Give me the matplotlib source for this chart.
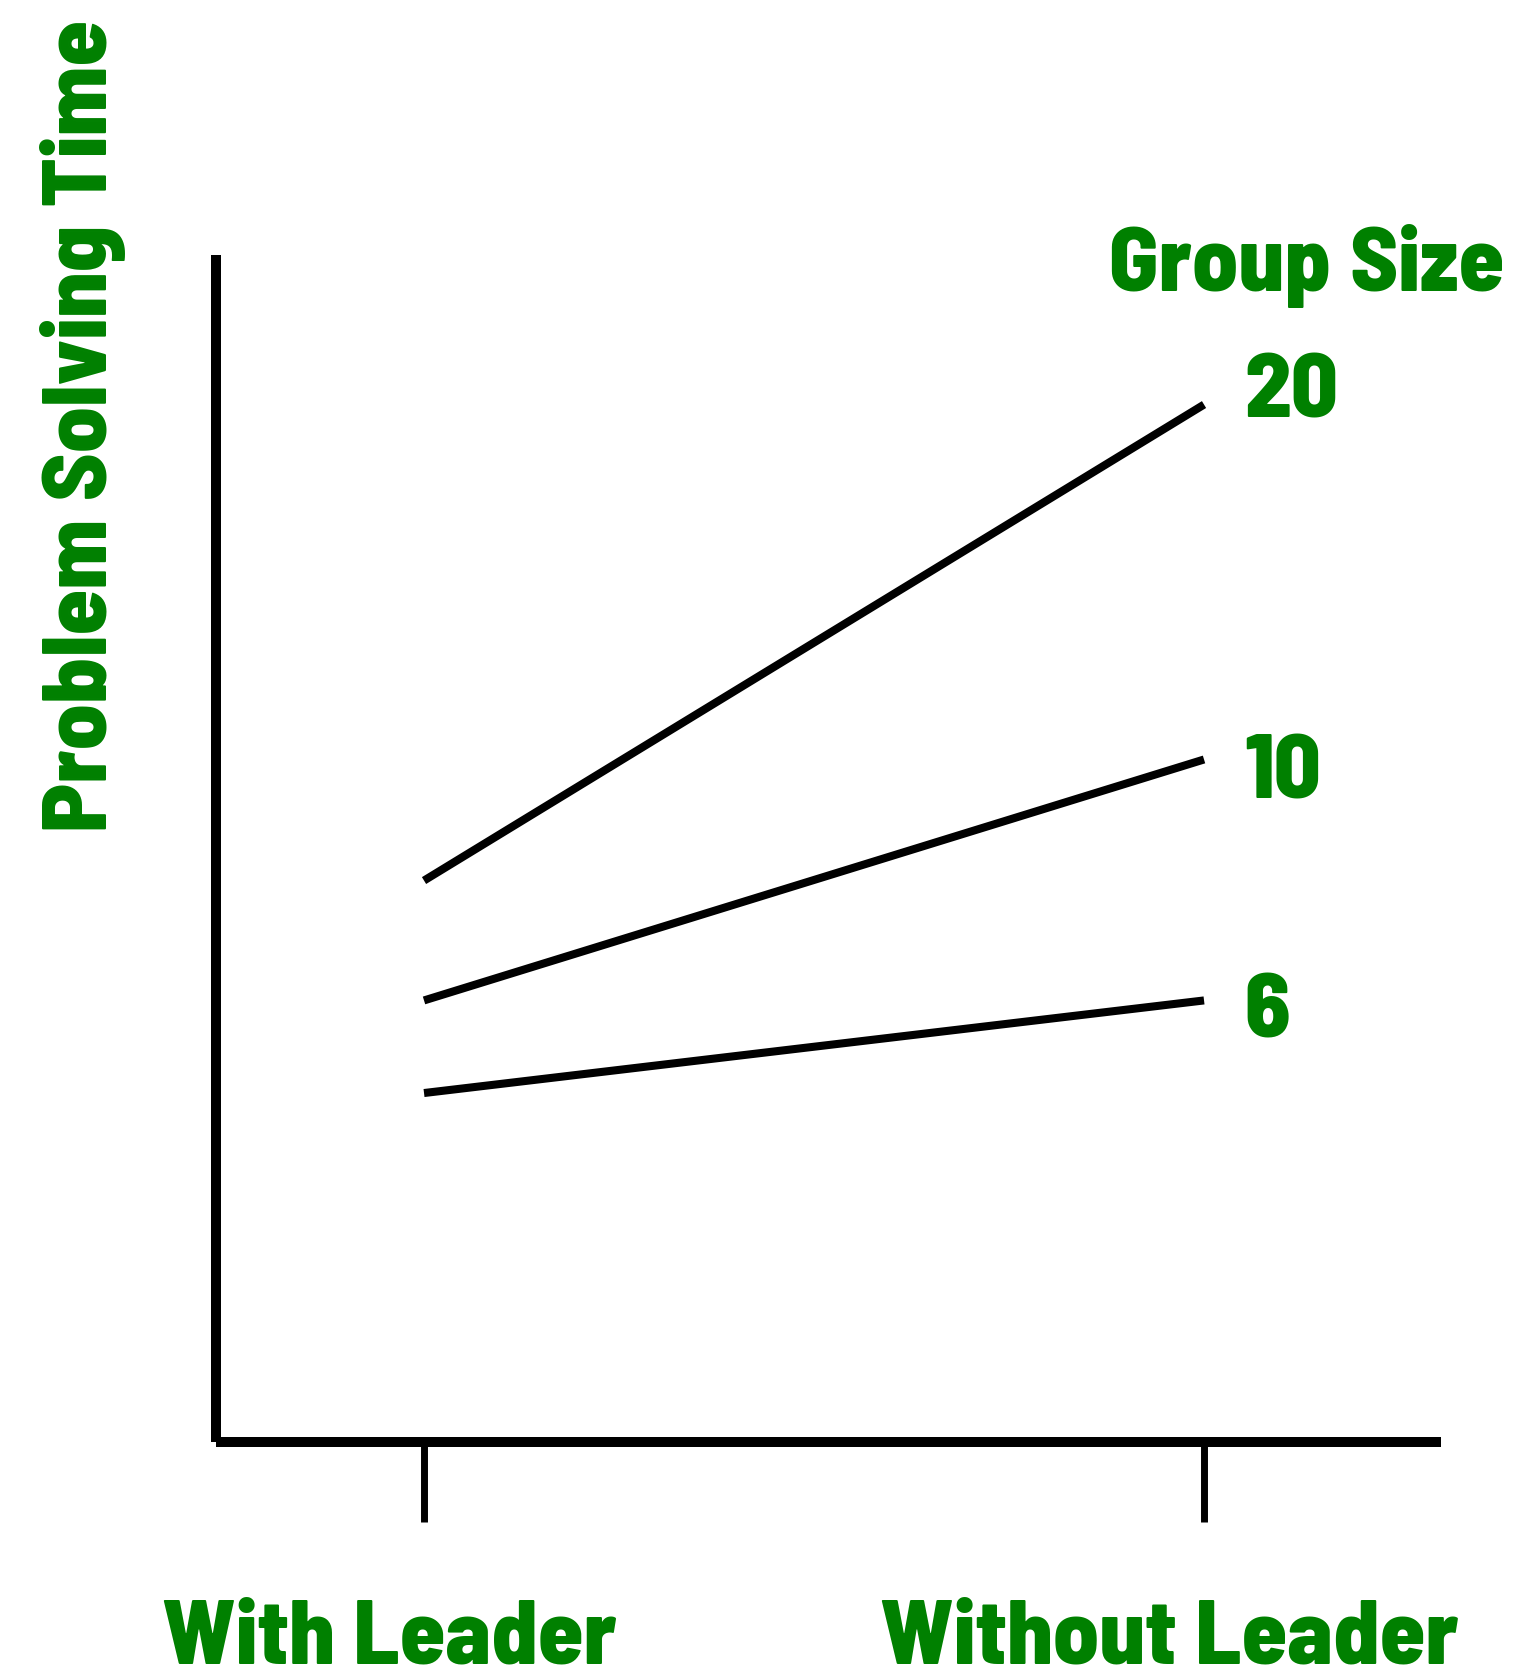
import matplotlib
matplotlib.use("Agg")
import matplotlib.pyplot as plt
from matplotlib.transforms import ScaledTranslation

# Leadership condition on the x axis, one line per group size
conditions = ["With Leader", "Without Leader"]
group_sizes = ["20", "10", "6"]
time_size20 = [47.3, 87.4]
time_size10 = [37.2, 57.5]
time_size6 = [29.4, 37.2]
series = [time_size20, time_size10, time_size6]

GREEN = "#008000"
FONT = ["Barlow Semi Condensed", "Barlow Condensed", "DejaVu Sans"]
WEIGHT = 800
FS = 66

DPI = 100
fig = plt.figure(figsize=(15.27, 16.74), dpi=DPI)
ax = fig.add_axes([0.14145, 0.13799, 0.80223, 0.70908])

x = [0, 1]
for vals in series:
    ax.plot(x, vals, color="black", lw=5.8, solid_capstyle="butt")

# group size labels to the right of each line end (offsets in pixels)
label_offsets = [(40, -12), (40, -38), (40, -36)]
for name, vals, off in zip(group_sizes, series, label_offsets):
    ax.annotate(name, xy=(1, vals[-1]), xytext=off, textcoords="offset pixels",
                ha="left", va="baseline", color=GREEN, fontsize=FS,
                fontweight=WEIGHT, family=FONT)

ax.set_xlim(-0.2667, 1.3038)
ax.set_ylim(0, 100)

for side in ("top", "right"):
    ax.spines[side].set_visible(False)
for side in ("left", "bottom"):
    ax.spines[side].set_linewidth(7.2)
    ax.spines[side].set_color("black")
    ax.spines[side].set_capstyle("butt")

ax.set_yticks([])
ax.set_xticks(x)
ax.set_xticklabels(conditions, color=GREEN, fontsize=FS, fontweight=WEIGHT,
                   family=FONT)
ax.tick_params(axis="x", direction="out", length=57.6, width=5.0,
               color="black", pad=101.5)
shift_left = ScaledTranslation(-35 / DPI, 0, fig.dpi_scale_trans)
for lab in ax.get_xticklabels():
    lab.set_va("baseline")
    lab.set_transform(lab.get_transform() + shift_left)

ax.set_ylabel("Problem Solving Time", color=GREEN, fontsize=FS,
              fontweight=WEIGHT, family=FONT)
ax.yaxis.label.set_va("baseline")
ax.yaxis.set_label_coords(-0.0892, 0.8569)

fig.text(1307 / 1527, 1 - 291 / 1674, "Group Size", ha="center", va="baseline",
         color=GREEN, fontsize=FS, fontweight=WEIGHT, family=FONT)

fig.savefig("out.png", dpi=DPI, facecolor="white")
